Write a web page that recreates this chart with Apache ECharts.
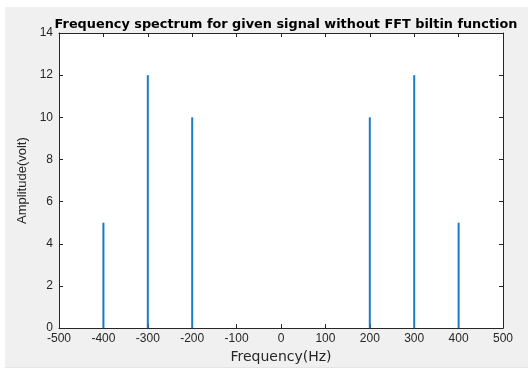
<!DOCTYPE html>
<html>
<head>
<meta charset="utf-8">
<script src="https://cdn.jsdelivr.net/npm/echarts@6/dist/echarts.min.js"></script>
<style>
html,body{margin:0;padding:0;background:#fff;}
#chart{width:528px;height:369px;}
</style>
</head>
<body>
<div id="chart"></div>
<script>
const frequencies = [-400, -300, -200, 200, 300, 400];
const amplitudes = [5, 12, 10, 10, 12, 5];
const xTicks = [-500, -400, -300, -200, -100, 0, 100, 200, 300, 400, 500];
const yTicks = [0, 2, 4, 6, 8, 10, 12, 14];

const chart = echarts.init(document.getElementById('chart'), null, {renderer: 'canvas'});
const axisColor = '#262626';
const font = 'Liberation Sans, Arial, sans-serif';
const wideFont = 'DejaVu Sans, sans-serif';
const data = frequencies.map((f, i) => [f, amplitudes[i]]);

const baseX = {
  type: 'value', min: xTicks[0], max: xTicks[xTicks.length - 1], interval: 100,
  axisLine: {show: true, onZero: false, lineStyle: {color: axisColor, width: 1}},
  axisTick: {show: true, inside: true, length: 4, lineStyle: {color: axisColor}},
  splitLine: {show: false}
};
const baseY = {
  type: 'value', min: yTicks[0], max: yTicks[yTicks.length - 1], interval: 2,
  axisLine: {show: true, onZero: false, lineStyle: {color: axisColor, width: 1}},
  axisTick: {show: true, inside: true, length: 4, lineStyle: {color: axisColor}},
  splitLine: {show: false}
};

chart.setOption({
  animation: false,
  backgroundColor: '#ffffff',
  graphic: [
    {type: 'rect', z: -10, silent: true, shape: {x: 5, y: 7, width: 523, height: 360}, style: {fill: '#f0f0f0'}},
    {type: 'rect', z: -10, silent: true, shape: {x: 5, y: 367, width: 523, height: 1}, style: {fill: '#dbe8f4'}}
  ],
  title: {
    text: 'Frequency spectrum for given signal without FFT biltin function',
    left: 281, top: 13, textAlign: 'center',
    textStyle: {fontFamily: wideFont, fontWeight: 'bold', fontSize: 12.85, color: '#000'}
  },
  grid: {left: 59, right: 25, top: 33, bottom: 40, show: true, backgroundColor: '#ffffff', borderWidth: 0},
  xAxis: [
    Object.assign({}, baseX, {
      position: 'bottom',
      name: 'Frequency(Hz)', nameLocation: 'middle', nameGap: 21,
      nameTextStyle: {fontFamily: wideFont, fontSize: 14, color: axisColor},
      axisLabel: {fontFamily: font, fontSize: 12, color: axisColor, margin: 5}
    }),
    Object.assign({}, baseX, {position: 'top', axisLabel: {show: false}})
  ],
  yAxis: [
    Object.assign({}, baseY, {
      position: 'left',
      name: 'Amplitude(volt)', nameLocation: 'middle', nameGap: 27,
      nameTextStyle: {fontFamily: font, fontSize: 13, color: axisColor},
      axisLabel: {fontFamily: font, fontSize: 12, color: axisColor, margin: 6}
    }),
    Object.assign({}, baseY, {position: 'right', axisLabel: {show: false}})
  ],
  series: [{
    type: 'bar',
    xAxisIndex: 0, yAxisIndex: 0,
    data: data,
    barWidth: 2,
    itemStyle: {color: '#1a7cc6'},
    silent: true
  }]
});
</script>
</body>
</html>
